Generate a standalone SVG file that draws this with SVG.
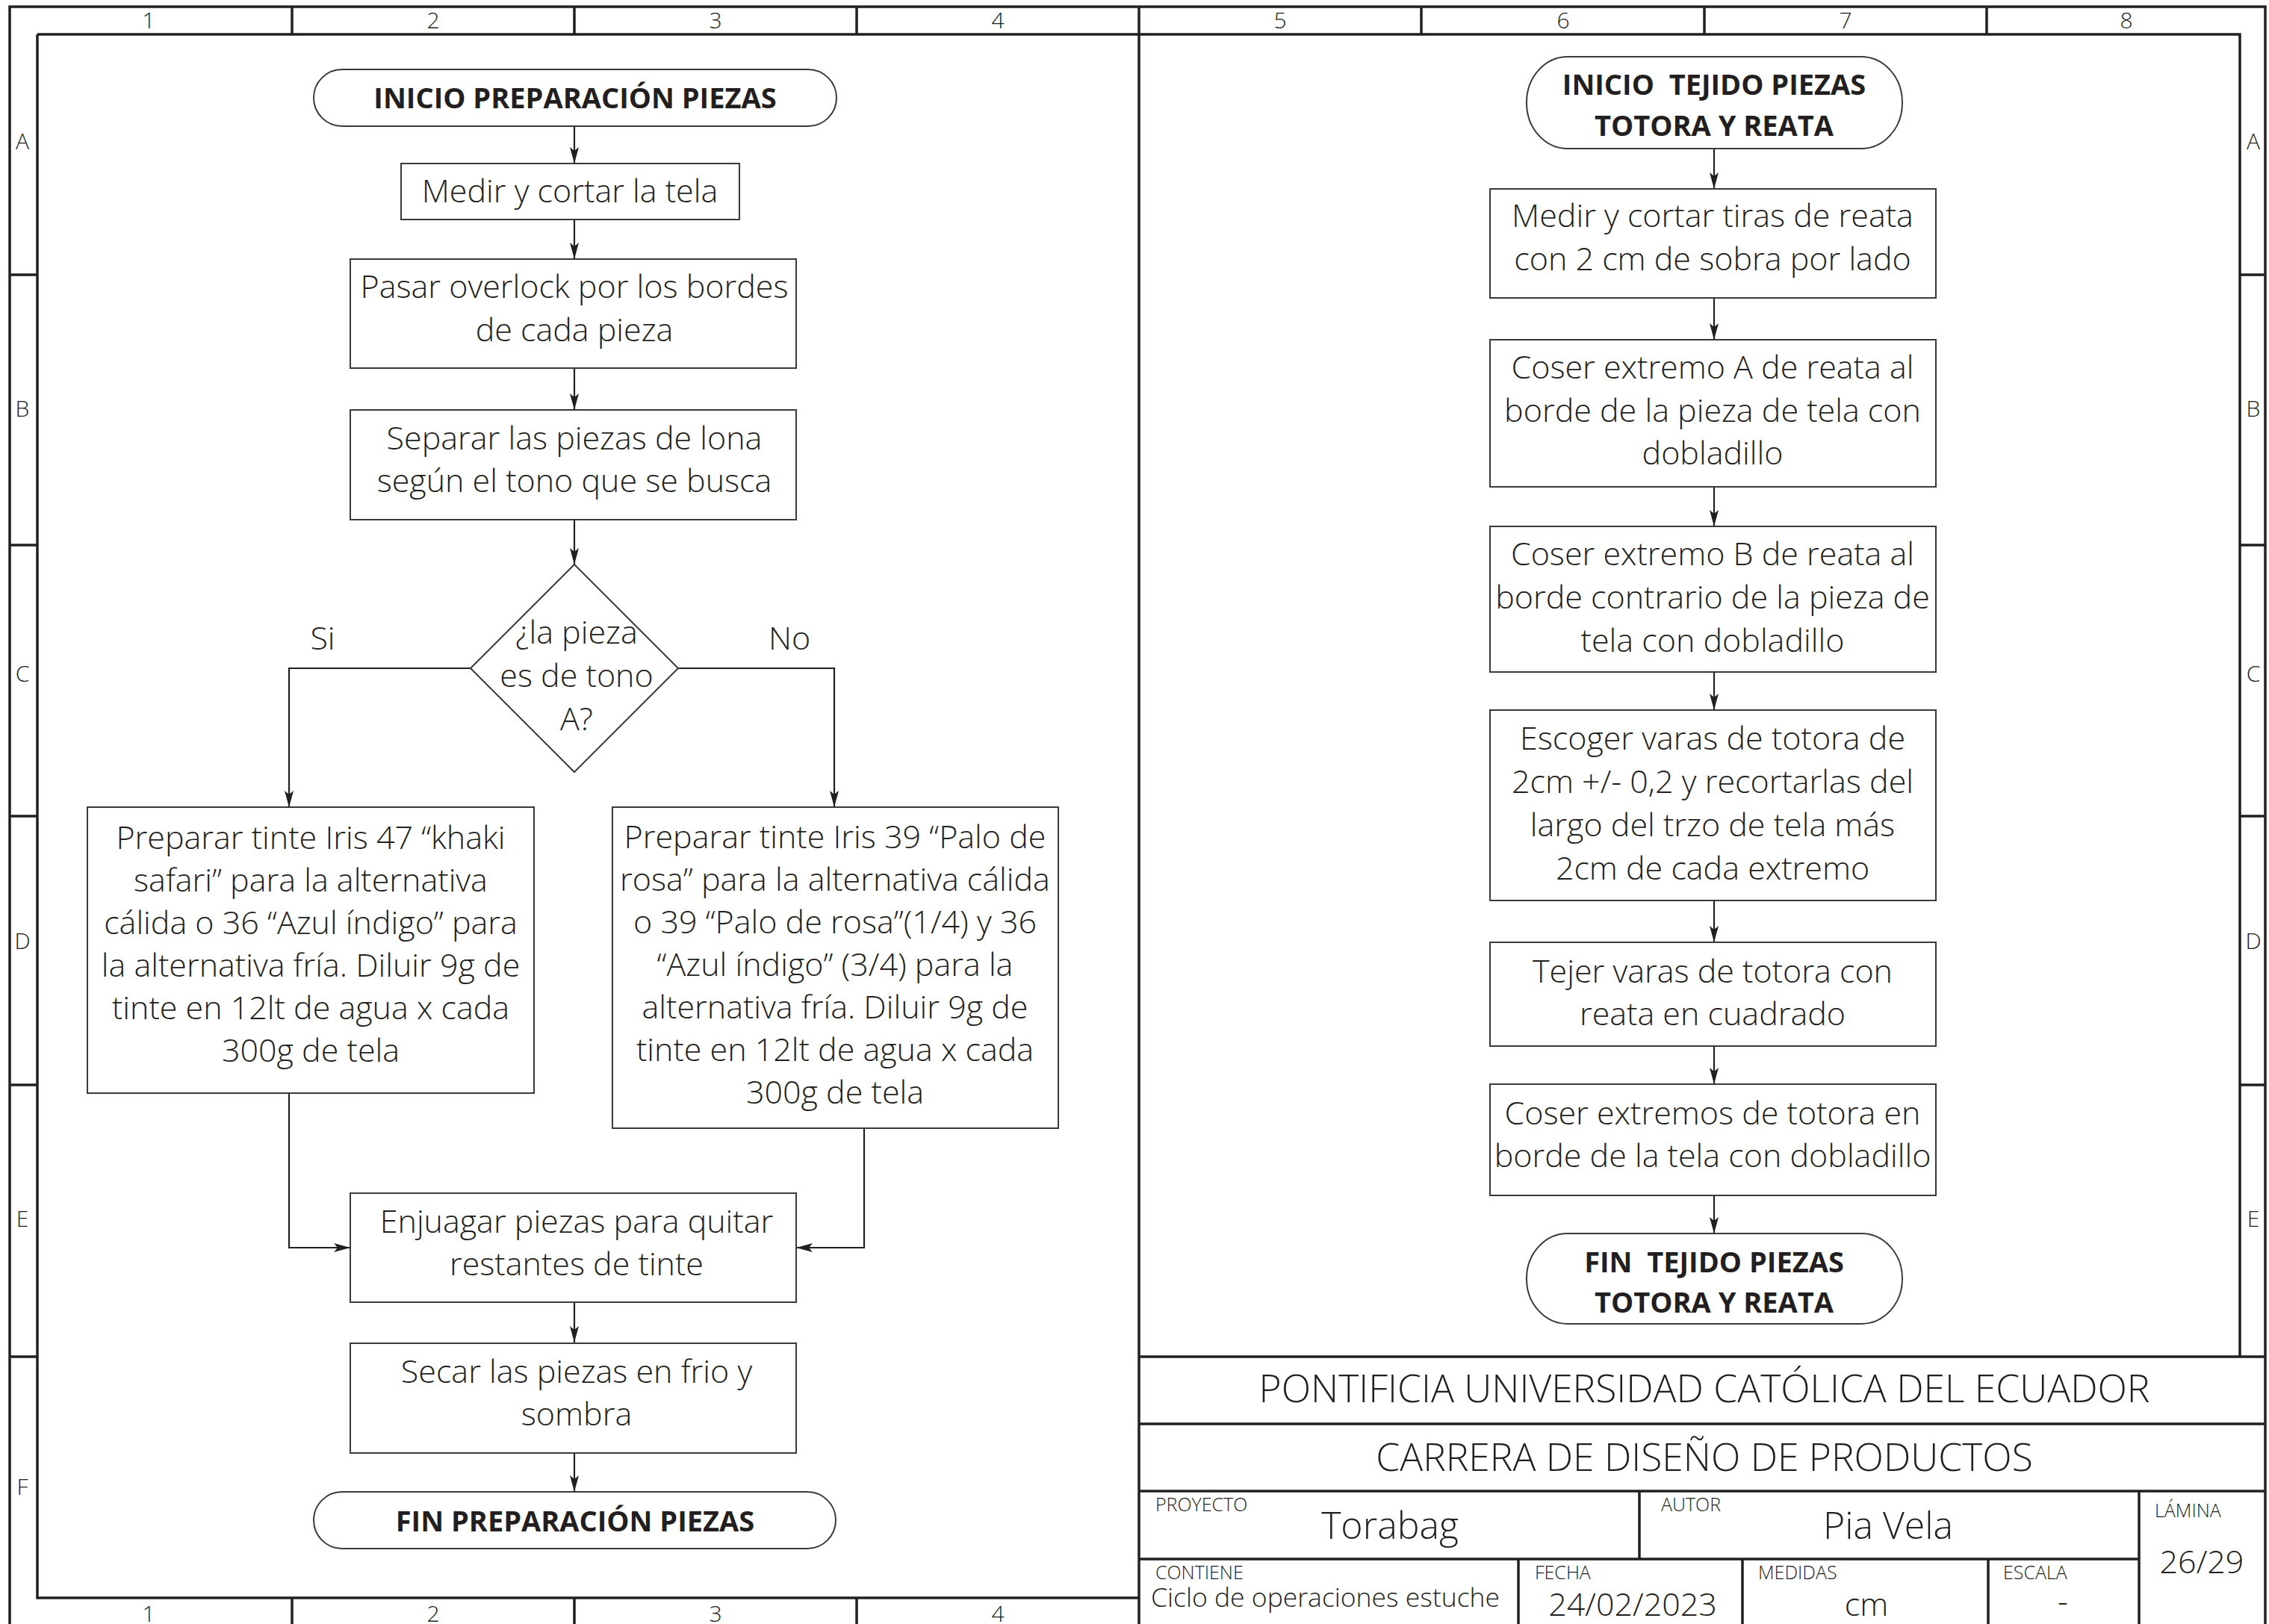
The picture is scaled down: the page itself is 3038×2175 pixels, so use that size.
<svg xmlns="http://www.w3.org/2000/svg" width="3038" height="2175" viewBox="0 0 3038 2175">
<defs>
<style>
.fr{fill:none;stroke:#231f20;stroke-width:3.5}
.nd{fill:#fff;stroke:#3a3a3a;stroke-width:2}
.cn{fill:none;stroke:#231f20;stroke-width:2.2;marker-end:url(#arr)}
text{font-family:'Open Sans','Liberation Sans',sans-serif;fill:#231f20}
.t{font-size:43px;font-weight:300;text-anchor:middle}
.b{font-size:38px;font-weight:700;text-anchor:middle}
.h{font-size:30px;font-weight:300;text-anchor:middle}
.big{font-size:51.5px;font-weight:300;text-anchor:middle}
.lb{font-size:25px;font-weight:300}
.v{font-size:50px;font-weight:300;text-anchor:middle}
.v2{font-size:43px;font-weight:300;text-anchor:middle}
</style>
<marker id="arr" markerWidth="22" markerHeight="12" refX="22" refY="6" orient="auto" markerUnits="userSpaceOnUse"><path d="M0,0 L22,6 L0,12 L5,6 z" fill="#231f20"/></marker>
</defs>
<rect width="3038" height="2175" fill="#fff"/>
<g id="frame">
<path class="fr" d="M13,2180 V9 H3033 V2180"/>
<path class="fr" d="M50,46 H2999 V1817 M50,46 V2140 H1525"/>
<path class="fr" d="M391,9 V46 M769,9 V46 M1147,9 V46 M1525,9 V46 M1903,9 V46 M2282,9 V46 M2660,9 V46"/>
<path class="fr" d="M391,2140 V2175 M769,2140 V2175 M1147,2140 V2175"/>
<path class="fr" d="M13,368 H50 M13,730 H50 M13,1093 H50 M13,1453 H50 M13,1817 H50"/>
<path class="fr" d="M2999,368 H3033 M2999,730 H3033 M2999,1093 H3033 M2999,1453 H3033"/>
<path class="fr" d="M1525,46 V2175"/>
<text class="h" x="199" y="38">1</text><text class="h" x="580" y="38">2</text><text class="h" x="958" y="38">3</text><text class="h" x="1336" y="38">4</text>
<text class="h" x="1714" y="38">5</text><text class="h" x="2093" y="38">6</text><text class="h" x="2471" y="38">7</text><text class="h" x="2847" y="38">8</text>
<text class="h" x="199" y="2172">1</text><text class="h" x="580" y="2172">2</text><text class="h" x="958" y="2172">3</text><text class="h" x="1336" y="2172">4</text>
<text class="h" x="30" y="200">A</text><text class="h" x="30" y="558">B</text><text class="h" x="30" y="913">C</text><text class="h" x="30" y="1271">D</text><text class="h" x="30" y="1643">E</text><text class="h" x="30" y="2002">F</text>
<text class="h" x="3017" y="200">A</text><text class="h" x="3017" y="558">B</text><text class="h" x="3017" y="913">C</text><text class="h" x="3017" y="1271">D</text><text class="h" x="3017" y="1643">E</text>
</g>
<g id="titleblock">
<path class="fr" d="M1525,1817 H3033 M1525,1907 H3033 M1525,1997 H3033 M1525,2088 H2864 M2195,1997 V2088 M2864,1997 V2175 M2033,2088 V2175 M2333,2088 V2175 M2662,2088 V2175"/>
<text class="big" x="2282" y="1878">PONTIFICIA UNIVERSIDAD CATÓLICA DEL ECUADOR</text>
<text class="big" x="2282" y="1970">CARRERA DE DISEÑO DE PRODUCTOS</text>
<text class="lb" x="1547" y="2024">PROYECTO</text>
<text class="v" x="1861" y="2061">Torabag</text>
<text class="lb" x="2224" y="2024">AUTOR</text>
<text class="v" x="2528" y="2061">Pia Vela</text>
<text class="lb" x="2885" y="2032">LÁMINA</text>
<text class="v2" x="2948" y="2107">26/29</text>
<text class="lb" x="1547" y="2115">CONTIENE</text>
<text x="1541" y="2152" style="font-size:35.5px;font-weight:300">Ciclo de operaciones estuche</text>
<text class="lb" x="2055" y="2115">FECHA</text>
<text class="v2" x="2186" y="2164">24/02/2023</text>
<text class="lb" x="2354" y="2115">MEDIDAS</text>
<text class="v2" x="2499" y="2164">cm</text>
<text class="lb" x="2682" y="2115">ESCALA</text>
<text class="v2" x="2762" y="2160">-</text>
</g>
<g id="connectors">
<path class="cn" d="M769,169 V219"/>
<path class="cn" d="M769,294 V347"/>
<path class="cn" d="M769,493 V549"/>
<path class="cn" d="M769,696 V756"/>
<path class="cn" d="M630,895 H387 V1081"/>
<path class="cn" d="M908,895 H1117 V1081"/>
<path class="cn" d="M387,1464 V1671 H469"/>
<path class="cn" d="M1157,1511 V1671 H1066"/>
<path class="cn" d="M769,1744 V1798"/>
<path class="cn" d="M769,1946 V1998"/>
<path class="cn" d="M2295,199 V253"/>
<path class="cn" d="M2295,399 V455"/>
<path class="cn" d="M2295,652 V705"/>
<path class="cn" d="M2295,900 V951"/>
<path class="cn" d="M2295,1206 V1262"/>
<path class="cn" d="M2295,1401 V1452"/>
<path class="cn" d="M2295,1601 V1652"/>
<text class="t" x="432" y="870">Si</text>
<text class="t" x="1057" y="870">No</text>
</g>
<g id="n-inicio-prep">
<rect class="nd" x="420" y="93" width="700" height="76" rx="38" ry="38"/>
<text class="b" x="770" y="145">INICIO PREPARACIÓN PIEZAS</text>
</g>
<g id="n-medir">
<rect class="nd" x="537" y="219" width="453" height="75"/>
<text class="t" x="763" y="271">Medir y cortar la tela</text>
</g>
<g id="n-overlock">
<rect class="nd" x="469" y="347" width="597" height="146"/>
<text class="t" x="769" y="399">Pasar overlock por los bordes</text>
<text class="t" x="769" y="457">de cada pieza</text>
</g>
<g id="n-separar">
<rect class="nd" x="469" y="549" width="597" height="147"/>
<text class="t" x="769" y="602">Separar las piezas de lona</text>
<text class="t" x="769" y="659">según el tono que se busca</text>
</g>
<g id="n-decision">
<path class="nd" d="M769,756 L908,895 L769,1034 L630,895 Z"/>
<text class="t" x="772" y="862">¿la pieza</text>
<text class="t" x="772" y="920">es de tono</text>
<text class="t" x="772" y="978">A?</text>
</g>
<g id="n-tinte-a">
<rect class="nd" x="117" y="1081" width="598" height="383"/>
<text class="t" x="416" y="1137">Preparar tinte Iris 47 “khaki</text>
<text class="t" x="416" y="1194">safari” para la alternativa</text>
<text class="t" x="416" y="1251">cálida o 36 “Azul índigo” para</text>
<text class="t" x="416" y="1308">la alternativa fría. Diluir 9g de</text>
<text class="t" x="416" y="1365">tinte en 12lt de agua x cada</text>
<text class="t" x="416" y="1422">300g de tela</text>
</g>
<g id="n-tinte-b">
<rect class="nd" x="820" y="1081" width="597" height="430"/>
<text class="t" x="1118" y="1136">Preparar tinte Iris 39 “Palo de</text>
<text class="t" x="1118" y="1193">rosa” para la alternativa cálida</text>
<text class="t" x="1118" y="1250">o 39 “Palo de rosa”(1/4) y 36</text>
<text class="t" x="1118" y="1307">“Azul índigo” (3/4) para la</text>
<text class="t" x="1118" y="1364">alternativa fría. Diluir 9g de</text>
<text class="t" x="1118" y="1421">tinte en 12lt de agua x cada</text>
<text class="t" x="1118" y="1478">300g de tela</text>
</g>
<g id="n-enjuagar">
<rect class="nd" x="469" y="1598" width="597" height="146"/>
<text class="t" x="772" y="1651">Enjuagar piezas para quitar</text>
<text class="t" x="772" y="1708">restantes de tinte</text>
</g>
<g id="n-secar">
<rect class="nd" x="469" y="1799" width="597" height="147"/>
<text class="t" x="772" y="1852">Secar las piezas en frio y</text>
<text class="t" x="772" y="1909">sombra</text>
</g>
<g id="n-fin-prep">
<rect class="nd" x="420" y="1998" width="699" height="76" rx="38" ry="38"/>
<text class="b" x="770" y="2051">FIN PREPARACIÓN PIEZAS</text>
</g>
<g id="n-inicio-tejido">
<rect class="nd" x="2044" y="76" width="503" height="123" rx="55" ry="61"/>
<text class="b" x="2295" y="127" xml:space="preserve">INICIO  TEJIDO PIEZAS</text>
<text class="b" x="2295" y="182">TOTORA Y REATA</text>
</g>
<g id="n-medir-reata">
<rect class="nd" x="1995" y="253" width="597" height="146"/>
<text class="t" x="2293" y="304">Medir y cortar tiras de reata</text>
<text class="t" x="2293" y="362">con 2 cm de sobra por lado</text>
</g>
<g id="n-coser-a">
<rect class="nd" x="1995" y="455" width="597" height="197"/>
<text class="t" x="2293" y="507">Coser extremo A de reata al</text>
<text class="t" x="2293" y="565">borde de la pieza de tela con</text>
<text class="t" x="2293" y="622">dobladillo</text>
</g>
<g id="n-coser-b">
<rect class="nd" x="1995" y="705" width="597" height="195"/>
<text class="t" x="2293" y="757">Coser extremo B de reata al</text>
<text class="t" x="2293" y="815">borde contrario de la pieza de</text>
<text class="t" x="2293" y="873">tela con dobladillo</text>
</g>
<g id="n-escoger">
<rect class="nd" x="1995" y="951" width="597" height="255"/>
<text class="t" x="2293" y="1004">Escoger varas de totora de</text>
<text class="t" x="2293" y="1062">2cm +/- 0,2 y recortarlas del</text>
<text class="t" x="2293" y="1120">largo del trzo de tela más</text>
<text class="t" x="2293" y="1178">2cm de cada extremo</text>
</g>
<g id="n-tejer">
<rect class="nd" x="1995" y="1262" width="597" height="139"/>
<text class="t" x="2293" y="1316">Tejer varas de totora con</text>
<text class="t" x="2293" y="1373">reata en cuadrado</text>
</g>
<g id="n-coser-ext">
<rect class="nd" x="1995" y="1452" width="597" height="149"/>
<text class="t" x="2293" y="1506">Coser extremos de totora en</text>
<text class="t" x="2293" y="1563">borde de la tela con dobladillo</text>
</g>
<g id="n-fin-tejido">
<rect class="nd" x="2044" y="1652" width="503" height="121" rx="55" ry="60"/>
<text class="b" x="2295" y="1704" xml:space="preserve">FIN  TEJIDO PIEZAS</text>
<text class="b" x="2295" y="1758">TOTORA Y REATA</text>
</g>
</svg>
